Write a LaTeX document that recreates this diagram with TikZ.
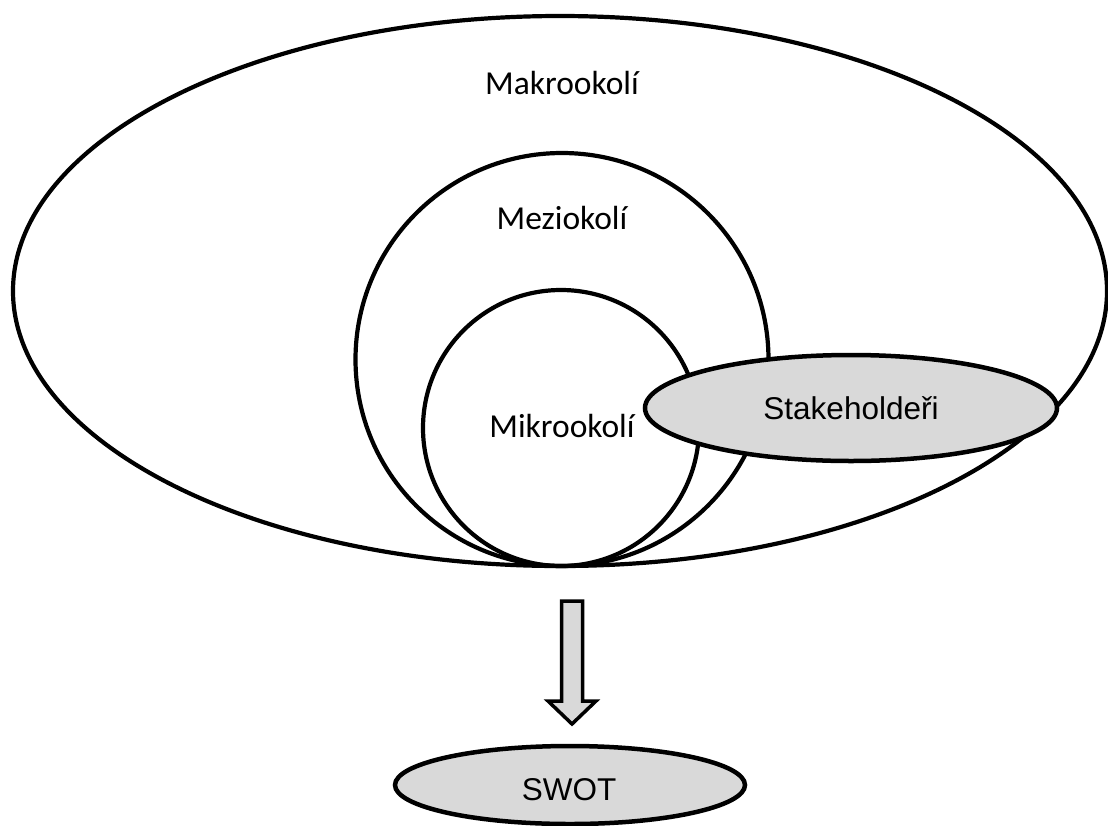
\documentclass[tikz,border=0pt]{standalone}
\usepackage{fontspec}
\setmainfont{Carlito}
\newfontfamily\arialfont{Liberation Sans}
\definecolor{boxgray}{HTML}{D9D9D9}
\begin{document}
\begin{tikzpicture}[x=1pt,y=-1pt,
  ring/.style={draw=black,line width=4.2pt},
  grayell/.style={draw=black,line width=4.5pt,fill=boxgray},
  envlabel/.style={font=\fontsize{33.5}{36}\selectfont,inner sep=0pt},
  boxlabel/.style={font=\arialfont\fontsize{31.5}{34}\selectfont,inner sep=0pt}]
\useasboundingbox (0,0) rectangle (1108,825);
\fill[white] (0,0) rectangle (1108,825);
% environments
\draw[ring] (560,291) ellipse [x radius=547, y radius=275];
\draw[ring] (562,359.5) circle [radius=206.5];
\draw[ring] (561,428) circle [radius=138];
\draw[grayell] (851,408) ellipse [x radius=206, y radius=53];
\node[envlabel] (makro) at (562,83) {Makrookolí};
\node[envlabel] (mezi) at (562,218) {Meziokolí};
\node[envlabel] (mikro) at (562,426) {Mikrookolí};
\node[boxlabel] (stake) at (851,408) {Stakeholdeři};
% block arrow
\coordinate (atop) at (572,601);
\coordinate (atip) at (572,724);
\draw[line width=3.5pt,fill=boxgray,line join=miter]
  (561.5,601) -- (582.5,601) -- (582.5,701) -- (596,701) -- (atip)
  -- (548,701) -- (561.5,701) -- cycle;
% SWOT
\draw[grayell] (570,785) ellipse [x radius=175, y radius=39];
\node[boxlabel] (swot) at (569,790) {SWOT};
\end{tikzpicture}
\end{document}
